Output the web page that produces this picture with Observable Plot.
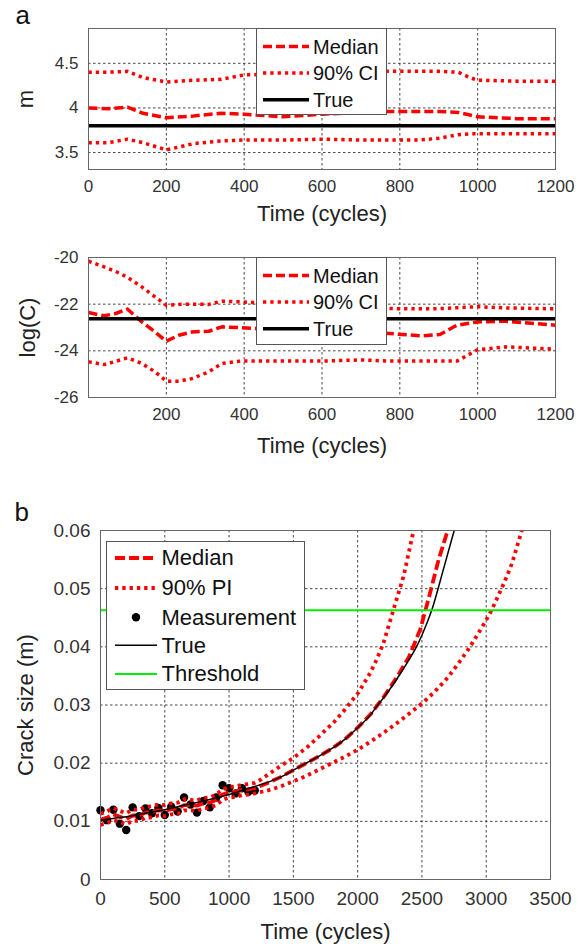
<!DOCTYPE html>
<html><head><meta charset="utf-8">
<script src="https://cdn.jsdelivr.net/npm/d3@7"></script>
<script src="https://cdn.jsdelivr.net/npm/@observablehq/plot@0.6"></script>
<style>
body{margin:0;background:#fff;}
#fig{position:relative;width:582px;height:947px;font-family:"Liberation Sans",Arial,Helvetica,sans-serif;overflow:hidden;}
.panel{position:absolute;left:0;}
.legend{position:absolute;background:#fff;border:1px solid #555;box-sizing:border-box;}
.legend svg{position:absolute;left:0;top:0;overflow:visible;}
.legend span{position:absolute;white-space:nowrap;line-height:1;color:#111;}
</style></head><body><div id="fig"></div>
<script>
// ---------- Panel a (top): parameter m ----------
const mTime   = [0, 50, 100, 140, 200, 270, 340, 400, 500, 600, 700, 770, 850, 900, 950, 980, 1000, 1100, 1200];
const mUpper  = [4.40, 4.40, 4.41, 4.34, 4.29, 4.31, 4.32, 4.37, 4.38, 4.39, 4.40, 4.41, 4.41, 4.41, 4.40, 4.34, 4.31, 4.30, 4.30];
const mMedian = [4.00, 3.99, 4.01, 3.94, 3.89, 3.91, 3.94, 3.93, 3.90, 3.93, 3.95, 3.96, 3.96, 3.96, 3.95, 3.92, 3.90, 3.88, 3.88];
const mLower  = [3.61, 3.61, 3.65, 3.61, 3.53, 3.60, 3.63, 3.64, 3.64, 3.65, 3.64, 3.64, 3.64, 3.66, 3.70, 3.71, 3.71, 3.71, 3.71];
const mTrue = 3.8;
const mXTicks = [0, 200, 400, 600, 800, 1000, 1200];
const mYTicks = [3.5, 4, 4.5];

// ---------- Panel a (bottom): parameter log(C) ----------
const cTime   = [0, 40, 70, 100, 137, 171, 200, 232, 266, 309, 343, 390, 500, 600, 700, 774, 860, 903, 947, 1000, 1072, 1200];
const cUpper  = [-20.16, -20.4, -20.6, -20.85, -21.26, -21.69, -22.05, -22.01, -22.0, -22.01, -21.87, -21.9, -22.0, -22.1, -22.15, -22.19, -22.2, -22.19, -22.15, -22.11, -22.16, -22.2];
const cMedian = [-22.36, -22.5, -22.4, -22.21, -22.76, -23.19, -23.59, -23.33, -23.19, -23.16, -22.97, -23.01, -23.1, -23.15, -23.2, -23.26, -23.36, -23.3, -22.9, -22.76, -22.73, -22.9];
const cLower  = [-24.47, -24.59, -24.45, -24.3, -24.54, -24.9, -25.3, -25.3, -25.19, -24.9, -24.54, -24.44, -24.44, -24.44, -24.39, -24.44, -24.44, -24.44, -24.44, -23.95, -23.83, -23.93];
const cTrue = -22.62;
const cXTicks = [200, 400, 600, 800, 1000, 1200];
const cYTicks = [-26, -24, -22, -20];

// ---------- Panel b: crack size ----------
const measTime = [0, 50, 100, 150, 200, 250, 300, 350, 400, 450, 500, 550, 600, 650, 700, 750, 800, 850, 900, 950, 1000, 1050, 1100, 1150, 1200];
const measSize = [0.0119, 0.0102, 0.0120, 0.0096, 0.0085, 0.0124, 0.0109, 0.0122, 0.0114, 0.0123, 0.0111, 0.0125, 0.0117, 0.0141, 0.0129, 0.0115, 0.0135, 0.0124, 0.0141, 0.0162, 0.0157, 0.0148, 0.0157, 0.0151, 0.0153];
// filtered estimates at measurement times
const filtMedian = [0.0103, 0.0106, 0.0112, 0.0108, 0.0104, 0.0110, 0.0110, 0.0115, 0.0116, 0.0119, 0.0118, 0.0121, 0.0122, 0.0128, 0.0128, 0.0127, 0.0131, 0.0132, 0.0137, 0.0146, 0.0150, 0.0151, 0.0154, 0.0155, 0.0157];
const filtUpper  = [0.0113, 0.0117, 0.0123, 0.0118, 0.0114, 0.0120, 0.0120, 0.0125, 0.0126, 0.0129, 0.0128, 0.0131, 0.0132, 0.0138, 0.0137, 0.0136, 0.0140, 0.0141, 0.0146, 0.0155, 0.0159, 0.0160, 0.0163, 0.0164, 0.0166];
const filtLower  = [0.0094, 0.0097, 0.0102, 0.0099, 0.0095, 0.0101, 0.0101, 0.0106, 0.0107, 0.0110, 0.0109, 0.0112, 0.0113, 0.0119, 0.0119, 0.0118, 0.0122, 0.0123, 0.0128, 0.0137, 0.0141, 0.0142, 0.0145, 0.0146, 0.0148];
// predictions beyond the last measurement
const predMedTime = [1300, 1400, 1500, 1600, 1700, 1800, 1900, 2000, 2100, 2200, 2300, 2400, 2487, 2552, 2630, 2700];
const predMedian  = [0.0166, 0.0176, 0.0188, 0.0200, 0.0212, 0.0225, 0.0241, 0.0261, 0.0284, 0.0313, 0.0346, 0.0383, 0.0430, 0.0483, 0.0550, 0.0600];
const predUpTime  = [1250, 1300, 1400, 1500, 1600, 1700, 1813, 1900, 2008, 2100, 2150, 2200, 2280, 2358, 2435];
const predUpper   = [0.0172, 0.0180, 0.0195, 0.0209, 0.0226, 0.0246, 0.0270, 0.0292, 0.0322, 0.0356, 0.0379, 0.0406, 0.0465, 0.0522, 0.0600];
const predLoTime  = [1300, 1400, 1500, 1600, 1700, 1800, 1900, 2000, 2100, 2200, 2300, 2400, 2513, 2600, 2700, 2772, 2850, 2927, 3000, 3044, 3135, 3200, 3277];
const predLower   = [0.0153, 0.0160, 0.0169, 0.0178, 0.0189, 0.0200, 0.0211, 0.0223, 0.0237, 0.0252, 0.0268, 0.0285, 0.0305, 0.0323, 0.0347, 0.0368, 0.0392, 0.0419, 0.0446, 0.0464, 0.0508, 0.0543, 0.0600];
const trueTime = [0, 100, 200, 300, 400, 500, 600, 700, 800, 900, 1000, 1100, 1200, 1300, 1400, 1500, 1600, 1700, 1813, 1900, 2000, 2100, 2150, 2200, 2300, 2400, 2450, 2500, 2578, 2668, 2751];
const trueSize = [0.0102, 0.0105, 0.0108, 0.0112, 0.0116, 0.0120, 0.0125, 0.0130, 0.0135, 0.0140, 0.0146, 0.0153, 0.0160, 0.0167, 0.0176, 0.0188, 0.0200, 0.0212, 0.0227, 0.0241, 0.0261, 0.0283, 0.0298, 0.0312, 0.0343, 0.0378, 0.0397, 0.0420, 0.0464, 0.0534, 0.0600];
const threshold = 0.0463;
const bXTicks = [0, 500, 1000, 1500, 2000, 2500, 3000, 3500];
const bYTicks = [0, 0.01, 0.02, 0.03, 0.04, 0.05, 0.06];

// ---------- helpers ----------
const FONT = '"Liberation Sans", Arial, Helvetica, sans-serif';
const RED = "#ff0000";
const zip = (ts, vs) => ts.map((t, i) => ({t, v: vs[i]}));
const grid = {stroke: "#333", strokeOpacity: 0.9, strokeWidth: 1, strokeDasharray: "2.5,2.5"};
const dashed = {stroke: RED, strokeWidth: 3.5, strokeDasharray: "9,4", strokeLinecap: "butt"};
const dotted = {stroke: RED, strokeWidth: 3.5, strokeDasharray: "3.3,4", strokeLinecap: "butt"};
const fmt = d => String(d);

const fig = document.getElementById("fig");
function place(svg, top) {
  svg.classList.add("panel");
  svg.style.top = top + "px";
  fig.appendChild(svg);
}

// ---------- Plot a-top ----------
const p1 = Plot.plot({
  width: 582, height: 240,
  marginTop: 28, marginBottom: 71, marginLeft: 88, marginRight: 27,
  style: {fontFamily: FONT, color: "#333", background: "transparent", overflow: "visible"},
  x: {domain: [0, 1200]},
  y: {domain: [3.31, 4.89]},
  marks: [
    Plot.gridX({ticks: mXTicks.slice(1, -1), ...grid}),
    Plot.gridY({ticks: mYTicks, ...grid}),
    Plot.line(zip(mTime, mMedian), {x: "t", y: "v", ...dashed}),
    Plot.line(zip(mTime, mUpper), {x: "t", y: "v", ...dotted}),
    Plot.line(zip(mTime, mLower), {x: "t", y: "v", ...dotted}),
    Plot.ruleY([mTrue], {stroke: "#000", strokeWidth: 3.5}),
    Plot.frame({stroke: "#666"}),
    Plot.axisX({ticks: mXTicks, tickSize: 0, tickPadding: 10, fontSize: 17, tickFormat: fmt, label: null}),
    Plot.axisY({ticks: mYTicks, tickSize: 0, tickPadding: 10, fontSize: 17, tickFormat: fmt, label: null}),
    Plot.text(["Time (cycles)"], {text: d => d, frameAnchor: "bottom", dy: 51, textAnchor: "middle", lineAnchor: "bottom", fontSize: 22, fill: "#222"}),
    Plot.text(["m"], {text: d => d, frameAnchor: "left", dx: -56, rotate: -90, textAnchor: "middle", lineAnchor: "bottom", fontSize: 22, fill: "#222"}),
    Plot.text(["a"], {text: d => d, frameAnchor: "top-left", dx: -73, dy: -5, textAnchor: "start", lineAnchor: "bottom", fontSize: 26, fill: "#111"})
  ]
});
place(p1, 0);

// ---------- Plot a-bottom ----------
const p2 = Plot.plot({
  width: 582, height: 230,
  marginTop: 17, marginBottom: 73, marginLeft: 88, marginRight: 27,
  style: {fontFamily: FONT, color: "#333", background: "transparent", overflow: "visible"},
  x: {domain: [0, 1200]},
  y: {domain: [-26, -20]},
  marks: [
    Plot.gridX({ticks: cXTicks.slice(0, -1), ...grid}),
    Plot.gridY({ticks: cYTicks.slice(1, -1), ...grid}),
    Plot.line(zip(cTime, cMedian), {x: "t", y: "v", ...dashed}),
    Plot.line(zip(cTime, cUpper), {x: "t", y: "v", ...dotted}),
    Plot.line(zip(cTime, cLower), {x: "t", y: "v", ...dotted}),
    Plot.ruleY([cTrue], {stroke: "#000", strokeWidth: 3.5}),
    Plot.frame({stroke: "#666"}),
    Plot.axisX({ticks: cXTicks, tickSize: 0, tickPadding: 10, fontSize: 17, tickFormat: fmt, label: null}),
    Plot.axisY({ticks: cYTicks, tickSize: 0, tickPadding: 10, fontSize: 17, tickFormat: fmt, label: null}),
    Plot.text(["Time (cycles)"], {text: d => d, frameAnchor: "bottom", dy: 55, textAnchor: "middle", lineAnchor: "bottom", fontSize: 22, fill: "#222"}),
    Plot.text(["log(C)"], {text: d => d, frameAnchor: "left", dx: -54, rotate: -90, textAnchor: "middle", lineAnchor: "bottom", fontSize: 22, fill: "#222"})
  ]
});
place(p2, 240);

// ---------- Plot b ----------
const medAll = zip(measTime, filtMedian).concat(zip(predMedTime, predMedian));
const upAll = zip(measTime, filtUpper).concat(zip(predUpTime, predUpper));
const loAll = zip(measTime, filtLower).concat(zip(predLoTime, predLower));
const p3 = Plot.plot({
  width: 582, height: 457,
  marginTop: 40, marginBottom: 68, marginLeft: 100, marginRight: 32,
  style: {fontFamily: FONT, color: "#333", background: "transparent", overflow: "visible"},
  x: {domain: [0, 3500]},
  y: {domain: [0, 0.06]},
  marks: [
    Plot.gridX({ticks: bXTicks.slice(1, -1), ...grid}),
    Plot.gridY({ticks: bYTicks.slice(1, -1), ...grid}),
    Plot.dot(zip(measTime, measSize), {x: "t", y: "v", r: 4.2, fill: "#000", stroke: "none"}),
    Plot.line(medAll, {x: "t", y: "v", ...dashed, strokeWidth: 3.8, strokeDasharray: "10,4", clip: true}),
    Plot.line(upAll, {x: "t", y: "v", ...dotted, strokeWidth: 3.8, clip: true}),
    Plot.line(loAll, {x: "t", y: "v", ...dotted, strokeWidth: 3.8, clip: true}),
    Plot.line(zip(trueTime, trueSize), {x: "t", y: "v", stroke: "#000", strokeWidth: 1.5, curve: "monotone-x", clip: true}),
    Plot.ruleY([threshold], {stroke: "#00ee00", strokeWidth: 2}),
    Plot.frame({stroke: "#666"}),
    Plot.axisX({ticks: bXTicks, tickSize: 0, tickPadding: 12, fontSize: 19, tickFormat: fmt, label: null}),
    Plot.axisY({ticks: bYTicks, tickSize: 0, tickPadding: 10, fontSize: 19, tickFormat: fmt, label: null}),
    Plot.text(["Time (cycles)"], {text: d => d, frameAnchor: "bottom", dy: 59, textAnchor: "middle", lineAnchor: "bottom", fontSize: 22, fill: "#222"}),
    Plot.text(["Crack size (m)"], {text: d => d, frameAnchor: "left", dx: -68, rotate: -90, textAnchor: "middle", lineAnchor: "bottom", fontSize: 22, fill: "#222"}),
    Plot.text(["b"], {text: d => d, frameAnchor: "top-left", dx: -86, dy: -10, textAnchor: "start", lineAnchor: "bottom", fontSize: 26, fill: "#111"})
  ]
});
place(p3, 490);

// ---------- legends (HTML overlays) ----------
const NS = "http://www.w3.org/2000/svg";
function legend({left, top, width, height, x0, x1, tx, fs, rows}) {
  const box = document.createElement("div");
  box.className = "legend";
  Object.assign(box.style, {left: left + "px", top: top + "px", width: width + "px", height: height + "px"});
  const svg = document.createElementNS(NS, "svg");
  svg.setAttribute("width", width); svg.setAttribute("height", height);
  box.appendChild(svg);
  for (const r of rows) {
    if (r.kind === "marker") {
      const c = document.createElementNS(NS, "circle");
      c.setAttribute("cx", (x0 + x1) / 2); c.setAttribute("cy", r.y); c.setAttribute("r", 4.2);
      c.setAttribute("fill", "#000");
      svg.appendChild(c);
    } else {
      const l = document.createElementNS(NS, "line");
      l.setAttribute("x1", x0); l.setAttribute("x2", x1);
      l.setAttribute("y1", r.y); l.setAttribute("y2", r.y);
      l.setAttribute("stroke", r.color); l.setAttribute("stroke-width", r.w);
      if (r.dash) l.setAttribute("stroke-dasharray", r.dash);
      svg.appendChild(l);
    }
    const s = document.createElement("span");
    s.textContent = r.label;
    Object.assign(s.style, {left: tx + "px", top: (r.y - 0.49 * fs) + "px", fontSize: fs + "px"});
    box.appendChild(s);
  }
  fig.appendChild(box);
}
const paramRows = (ci) => [
  {label: "Median", y: 17.4, color: RED, w: 3.5, dash: "9,4"},
  {label: ci, y: 44, color: RED, w: 3.5, dash: "3.3,4"},
  {label: "True", y: 70.7, color: "#000", w: 3.5}
];
legend({left: 256, top: 28, width: 131, height: 87, x0: 6, x1: 52, tx: 56, fs: 20, rows: paramRows("90% CI")});
legend({left: 256, top: 257, width: 131, height: 88, x0: 6, x1: 52, tx: 56, fs: 20, rows: paramRows("90% CI")});
legend({left: 106, top: 541, width: 199, height: 149, x0: 8, x1: 50, tx: 54.5, fs: 22, rows: [
  {label: "Median", y: 16, color: RED, w: 3.8, dash: "10,4"},
  {label: "90% PI", y: 46, color: RED, w: 3.8, dash: "3.3,4"},
  {label: "Measurement", y: 75.3, kind: "marker"},
  {label: "True", y: 103.3, color: "#000", w: 1.5},
  {label: "Threshold", y: 132, color: "#00ee00", w: 2}
]});
</script></body></html>
